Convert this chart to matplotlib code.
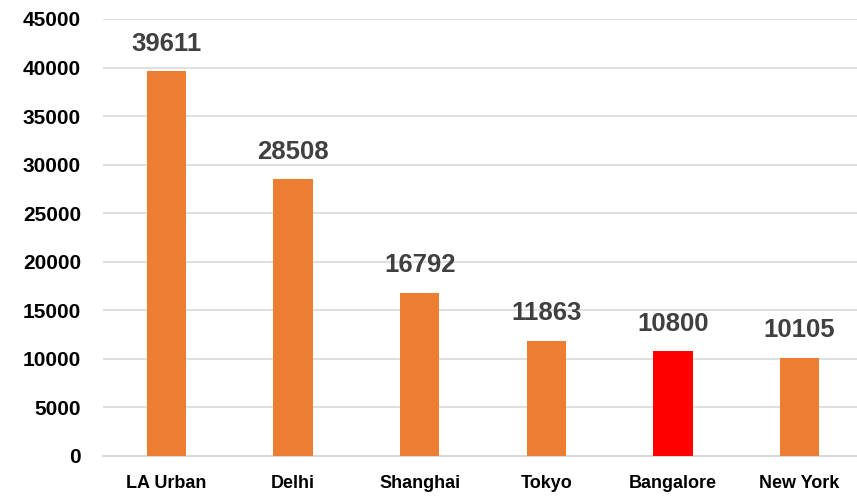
import matplotlib.pyplot as plt

cities = ['LA Urban', 'Delhi', 'Shanghai', 'Tokyo', 'Bangalore', 'New York']
values = [39611, 28508, 16792, 11863, 10800, 10105]
bar_colors = ['#ED7D31', '#ED7D31', '#ED7D31', '#ED7D31', '#FF0000', '#ED7D31']
yticks = [0, 5000, 10000, 15000, 20000, 25000, 30000, 35000, 40000, 45000]

plt.rcParams['font.family'] = ['Liberation Sans', 'DejaVu Sans']

fig = plt.figure(figsize=(8.57, 4.96), dpi=100)
ax = fig.add_axes([103.2 / 857, 40.3 / 496, (857 - 103.2) / 857, (455.7 - 19) / 496])

x = list(range(len(cities)))
bars = ax.bar(x, values, width=0.31, color=bar_colors, zorder=3)

# data labels above each bar
for xi, v in zip(x, values):
    ax.annotate(str(v), (xi, v), xytext=(0, 11), textcoords='offset points',
                ha='center', va='bottom', fontsize=18.5, fontweight='bold',
                color='#404040')

ax.set_ylim(0, 45000)
ax.set_xlim(-0.5, 5.5 - 5.8 / 126.6)
ax.set_yticks(yticks)
ax.set_yticklabels([str(t) for t in yticks], fontsize=15, fontweight='bold')
ax.set_xticks(x)
ax.set_xticklabels(cities, fontsize=13, fontweight='bold')

ax.yaxis.grid(True, color='#D9D9D9', linewidth=1.2, zorder=0)
ax.tick_params(axis='y', length=0, pad=16)
ax.tick_params(axis='x', length=0, pad=14)
for side in ['top', 'right', 'left']:
    ax.spines[side].set_visible(False)
ax.spines['bottom'].set_color('#D9D9D9')
ax.spines['bottom'].set_linewidth(1.5)

fig.savefig('out.png', dpi=100)
